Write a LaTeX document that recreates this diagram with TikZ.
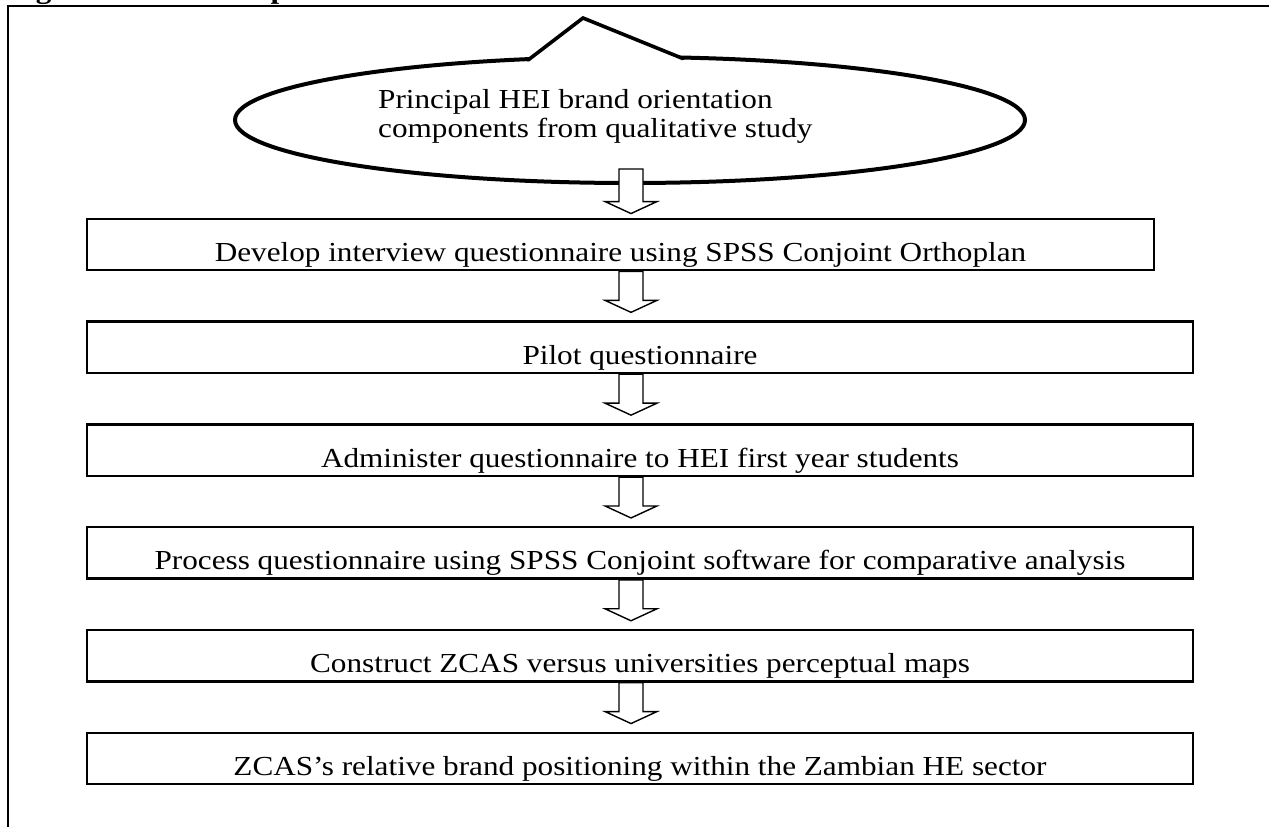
\documentclass[tikz,border=0pt]{standalone}
\usepackage{fontspec}
\setmainfont{Liberation Serif}[FakeStretch=1.135]
\usetikzlibrary{shapes.geometric,calc}
\newcommand\mainfnt{\fontsize{27.5}{29}\selectfont}
\newcommand\headfnt{\fontsize{27.5}{29}\selectfont\bfseries}
\tikzset{
  stepbox/.style={draw, line width=2.4pt, inner sep=0pt, minimum height=51.5pt,
    text height=34pt, text depth=0pt, font=\mainfnt},
  harrowstyle/.style={draw, fill=white, line width=1.4pt, line join=miter},
  framestyle/.style={line width=2.6pt},
}
\newcommand\harrow[2]{%
  \path[harrowstyle] let \p1=#1, \p2=#2 in
    (\x1-12pt,\y1) -- (\x1+12pt,\y1) -- (\x1+12pt,\y2+12pt) -- (\x1+26pt,\y2+12pt)
    -- (\x1,\y2) -- (\x1-26pt,\y2+12pt) -- (\x1-12pt,\y2+12pt) -- cycle;}
\begin{document}
\begin{tikzpicture}[x=1pt,y=-1pt]
\useasboundingbox (0,0) rectangle (1269,827);
% heading (cut off at the top edge, as in the reference)
\node[anchor=base west, inner sep=0pt, font=\headfnt] (fig) at (8,-1.5) {Figure 4: Research procedure};
% frame
\draw[framestyle] (8,830) -- (8,6) -- (1272,6);
% ellipse callout
\node[ellipse, draw, line width=4pt, minimum width=790pt, minimum height=126pt, inner sep=0pt] (e) at (630,120) {};
\coordinate (sl) at (528,60.1);
\coordinate (sa) at (583,18);
\coordinate (sr) at (683,58.6);
\fill[white] (sl) -- (sa) -- (sr) -- (683,66) -- (528,66) -- cycle;
\draw[line width=3.6pt, line cap=round, line join=miter] (sl) -- (sa) -- (sr);
\node[anchor=base west, align=left, inner sep=0pt, font=\mainfnt] (et) at (378,137)
  {Principal HEI brand orientation\\components from qualitative study};
% boxes
\node[stepbox, minimum width=1067pt] (b1) at (620.5,244.5) {Develop interview questionnaire using SPSS Conjoint Orthoplan};
\node[stepbox, minimum width=1106pt] (b2) at (640,347.3) {Pilot questionnaire};
\node[stepbox, minimum width=1106pt] (b3) at (640,450.1) {Administer questionnaire to HEI first year students};
\node[stepbox, minimum width=1106pt] (b4) at (640,552.9) {Process questionnaire using SPSS Conjoint software for comparative analysis};
\node[stepbox, minimum width=1106pt] (b5) at (640,655.7) {Construct ZCAS versus universities perceptual maps};
\node[stepbox, minimum width=1106pt] (b6) at (640,758.5) {ZCAS’s relative brand positioning within the Zambian HE sector};
% hollow arrows
\coordinate (ax) at (631,0);
\harrow{($(ax |- e.south)+(0,-16)$)}{($(ax |- b1.north)+(0,-4)$)}
\harrow{(ax |- b1.south)}{($(ax |- b2.north)+(0,-8)$)}
\harrow{(ax |- b2.south)}{($(ax |- b3.north)+(0,-8)$)}
\harrow{(ax |- b3.south)}{($(ax |- b4.north)+(0,-8)$)}
\harrow{(ax |- b4.south)}{($(ax |- b5.north)+(0,-8)$)}
\harrow{(ax |- b5.south)}{($(ax |- b6.north)+(0,-8)$)}
\end{tikzpicture}
\end{document}
